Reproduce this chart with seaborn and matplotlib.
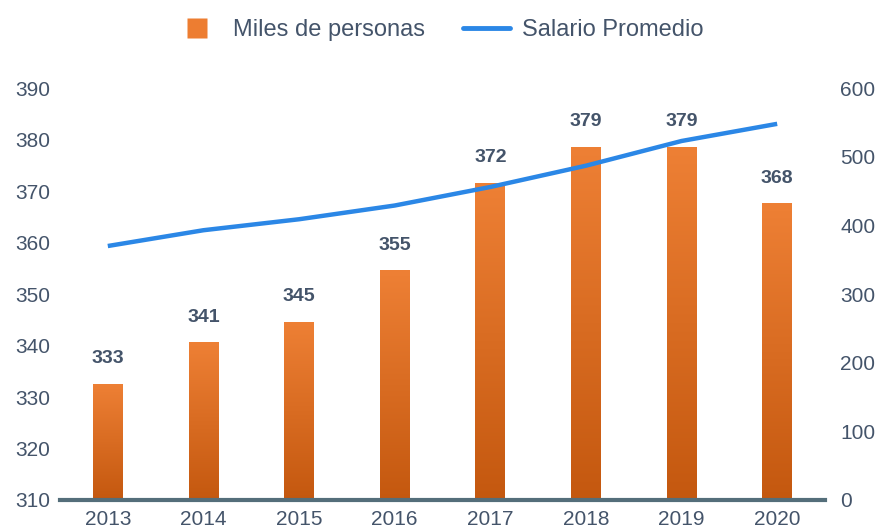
import numpy as np
import pandas as pd
import seaborn as sns
import matplotlib.pyplot as plt
from matplotlib.lines import Line2D
from matplotlib.colors import LinearSegmentedColormap

# data
years = ["2013", "2014", "2015", "2016", "2017", "2018", "2019", "2020"]
personas = [332.6, 340.6, 344.6, 354.6, 371.6, 378.6, 378.6, 367.6]
salario = [370, 393, 409, 429, 456, 487, 523, 548]

ORANGE_TOP = "#EE8035"
ORANGE_BOT = "#C4580F"
BLUE = "#2B87E6"
TXT = "#44546A"
AXIS = "#546E7A"

sns.set_theme(style="white")
plt.rcParams["font.family"] = ["Liberation Sans Narrow", "Liberation Sans", "DejaVu Sans"]

df = pd.DataFrame({"year": years, "personas": personas, "salario": salario})

fig = plt.figure(figsize=(8.77, 5.31), dpi=100)
ax = fig.add_axes([0.0684, 0.0584, 0.8723, 0.7756])

sns.barplot(data=df, x="year", y="personas", color=ORANGE_TOP, width=0.31,
            ax=ax, zorder=2)

# vertical gradient on each bar
cmap = LinearSegmentedColormap.from_list("og", [ORANGE_BOT, ORANGE_TOP])
grad = np.linspace(0, 1, 256).reshape(-1, 1)
for p in list(ax.patches):
    x0, w = p.get_x(), p.get_width()
    top = p.get_y() + p.get_height()
    im = ax.imshow(grad, cmap=cmap, origin="lower", aspect="auto",
                   extent=[x0, x0 + w, 310, top], zorder=2.5)
    im.set_clip_path(p)
ax.set_ylim(310, 390)
ax.set_xlim(-0.5, 7.5)

for i, v in enumerate(personas):
    ax.text(i, v + 3.2, f"{round(v):d}", ha="center", va="bottom",
            fontsize=14, fontweight="bold", color=TXT)

ax2 = ax.twinx()
sns.lineplot(x=np.arange(len(years)), y=salario, color=BLUE, linewidth=3.2,
             ax=ax2, zorder=3)
ax2.lines[0].set_solid_joinstyle("round")
ax2.lines[0].set_solid_capstyle("butt")
ax2.set_ylim(0, 600)
ax2.set_yticks(range(0, 601, 100))
ax.set_yticks(range(310, 391, 10))

for a in (ax, ax2):
    for s in a.spines.values():
        s.set_visible(False)
    a.set_xlabel("")
    a.set_ylabel("")
    a.tick_params(length=0, colors=TXT, labelsize=15)
ax.tick_params(axis="y", pad=7)
ax2.tick_params(axis="y", pad=11)
ax.tick_params(axis="x", pad=7)
ax.spines["bottom"].set_visible(True)
ax.spines["bottom"].set_color(AXIS)
ax.spines["bottom"].set_linewidth(3)
ax.spines["bottom"].set_zorder(5)

handles = [Line2D([0], [0], marker="s", linestyle="none", markersize=14,
                  markerfacecolor="#ED7D31", markeredgecolor="none"),
           Line2D([0], [0], color=BLUE, linewidth=3.5)]
fig.legend(handles, ["Miles de personas", "Salario Promedio"], loc="center",
           bbox_to_anchor=(0.5, 0.943), ncol=2, frameon=False, fontsize=17,
           labelcolor=TXT, handlelength=2.0, columnspacing=1.6,
           handletextpad=0.5)

fig.savefig("out.png", dpi=100)
